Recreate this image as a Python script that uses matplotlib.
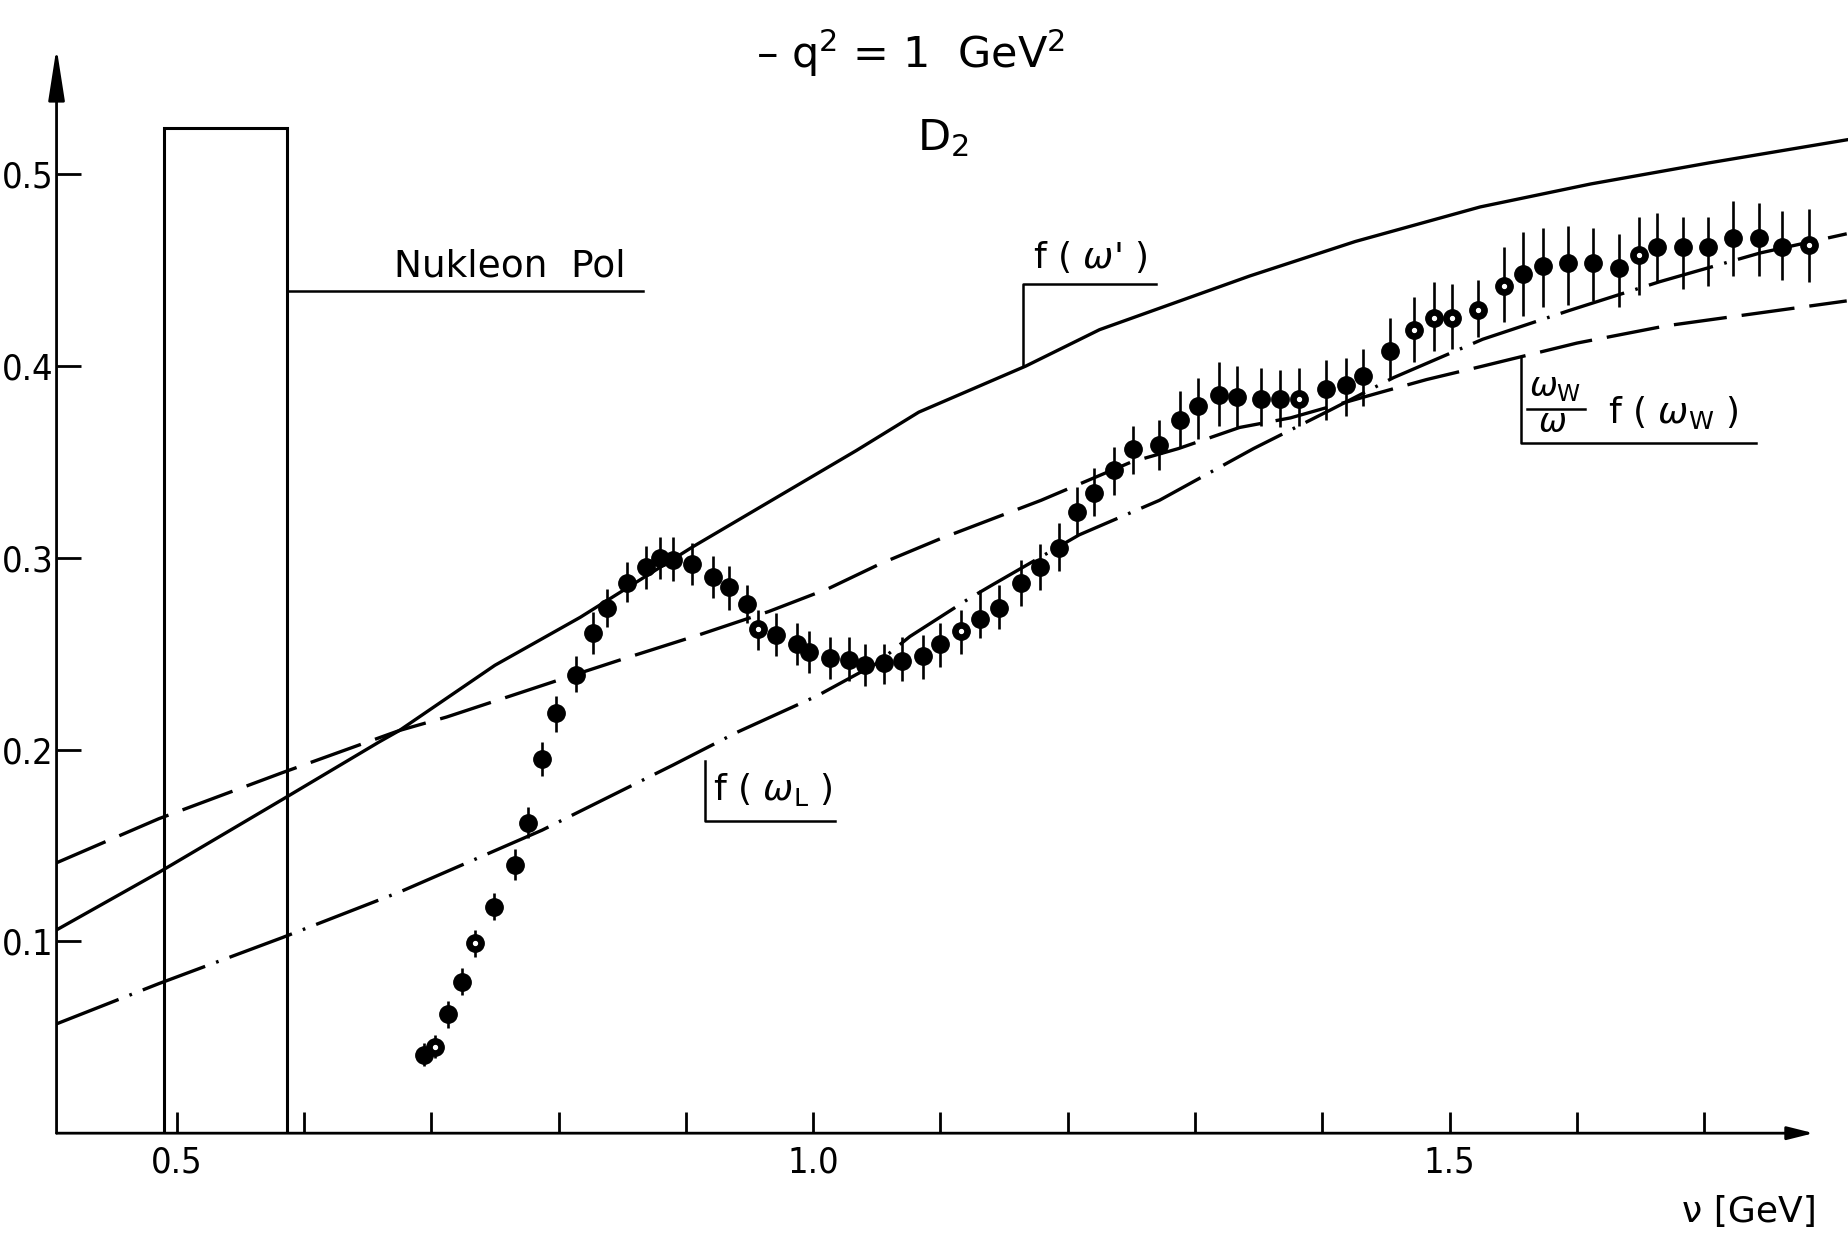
#!/usr/bin/env python3
"""D2 structure function ratio at -q^2 = 1 GeV^2 with three scaling curves."""

import numpy as np
import matplotlib.pyplot as plt

# measured points: nu [GeV], value, upper / lower error
NU = [0.694, 0.703, 0.713, 0.724, 0.734, 0.749, 0.766, 0.776, 0.787, 0.798,
      0.814, 0.827, 0.838, 0.854, 0.869, 0.880, 0.890, 0.905, 0.921, 0.934,
      0.948, 0.957, 0.971, 0.987, 0.997, 1.013, 1.028, 1.041, 1.056, 1.070,
      1.086, 1.100, 1.116, 1.131, 1.146, 1.163, 1.178, 1.193, 1.207, 1.221,
      1.236, 1.251, 1.272, 1.288, 1.302, 1.319, 1.333, 1.352, 1.367, 1.382,
      1.403, 1.419, 1.432, 1.453, 1.472, 1.488, 1.502, 1.522, 1.543, 1.558,
      1.573, 1.593, 1.613, 1.633, 1.649, 1.663, 1.683, 1.703, 1.723, 1.743,
      1.761, 1.782]
VAL = [0.041, 0.045, 0.062, 0.079, 0.099, 0.118, 0.140, 0.162, 0.195, 0.219,
       0.239, 0.261, 0.274, 0.287, 0.295, 0.300, 0.299, 0.297, 0.290, 0.285,
       0.276, 0.263, 0.260, 0.255, 0.251, 0.248, 0.247, 0.244, 0.245, 0.246,
       0.249, 0.255, 0.262, 0.268, 0.274, 0.287, 0.295, 0.305, 0.324, 0.334,
       0.346, 0.357, 0.359, 0.372, 0.379, 0.385, 0.384, 0.383, 0.383, 0.383,
       0.388, 0.390, 0.395, 0.408, 0.419, 0.425, 0.425, 0.429, 0.442, 0.448,
       0.452, 0.454, 0.454, 0.451, 0.458, 0.462, 0.462, 0.462, 0.467, 0.467,
       0.462, 0.463]
ERR_UP = [0.006, 0.006, 0.007, 0.007, 0.007, 0.007, 0.008, 0.008, 0.009, 0.009,
          0.010, 0.011, 0.010, 0.011, 0.011, 0.011, 0.012, 0.011, 0.011, 0.011,
          0.010, 0.010, 0.011, 0.011, 0.011, 0.011, 0.012, 0.011, 0.010, 0.013,
          0.011, 0.011, 0.011, 0.015, 0.012, 0.012, 0.012, 0.013, 0.013, 0.013,
          0.012, 0.012, 0.013, 0.015, 0.015, 0.017, 0.016, 0.016, 0.015, 0.016,
          0.015, 0.014, 0.014, 0.017, 0.017, 0.019, 0.018, 0.016, 0.020, 0.022,
          0.020, 0.019, 0.018, 0.018, 0.020, 0.018, 0.016, 0.016, 0.019, 0.018,
          0.019, 0.019]
ERR_DN = [0.006, 0.006, 0.007, 0.007, 0.007, 0.007, 0.008, 0.008, 0.009, 0.010,
          0.009, 0.011, 0.010, 0.010, 0.011, 0.011, 0.011, 0.011, 0.011, 0.012,
          0.010, 0.011, 0.011, 0.011, 0.011, 0.011, 0.011, 0.011, 0.011, 0.010,
          0.012, 0.012, 0.012, 0.010, 0.011, 0.012, 0.012, 0.012, 0.012, 0.012,
          0.013, 0.013, 0.013, 0.014, 0.017, 0.016, 0.016, 0.014, 0.015, 0.014,
          0.016, 0.016, 0.016, 0.014, 0.017, 0.017, 0.016, 0.014, 0.019, 0.022,
          0.021, 0.022, 0.020, 0.020, 0.021, 0.018, 0.022, 0.020, 0.020, 0.020,
          0.017, 0.019]
RING = [1, 4, 21, 32, 49, 54, 55, 56, 57, 58, 64, 71]  # points printed with a light centre

# f(omega')  (solid)
NU_FP = [0.4056, 0.486, 0.583, 0.659, 0.675, 0.75, 0.817, 0.906, 1.034, 1.083,
         1.167, 1.225, 1.343, 1.426, 1.524, 1.611, 1.704, 1.812]
F_PRIME = [0.106, 0.136, 0.174, 0.204, 0.210, 0.244, 0.269, 0.306, 0.356, 0.376,
           0.400, 0.419, 0.447, 0.465, 0.483, 0.495, 0.506, 0.518]

# omega_W / omega f(omega_W)  (dashed)
NU_FW = [0.4056, 0.486, 0.583, 0.675, 0.712, 0.817, 0.854, 0.911, 0.965, 1.012,
         1.053, 1.10, 1.179, 1.25, 1.287, 1.335, 1.375, 1.444, 1.482, 1.526,
         1.60, 1.67, 1.812]
F_W = [0.141, 0.164, 0.188, 0.210, 0.217, 0.240, 0.248, 0.260, 0.272, 0.284,
       0.297, 0.310, 0.330, 0.350, 0.357, 0.368, 0.373, 0.386, 0.393, 0.400,
       0.412, 0.421, 0.434]

# f(omega_L)  (dash-dot)
NU_FL = [0.4056, 0.486, 0.583, 0.676, 0.787, 0.89, 0.94, 1.003, 1.05, 1.076,
         1.123, 1.141, 1.209, 1.272, 1.346, 1.406, 1.456, 1.526, 1.594, 1.665,
         1.744, 1.812]
F_L = [0.057, 0.078, 0.102, 0.126, 0.158, 0.192, 0.209, 0.228, 0.245, 0.259,
       0.279, 0.286, 0.312, 0.330, 0.357, 0.377, 0.394, 0.414, 0.429, 0.444,
       0.459, 0.469]

# nucleon pole box
POLE_LO, POLE_HI, POLE_TOP = 0.49, 0.587, 0.524

X_TICKS = [0.5, 0.6, 0.7, 0.8, 0.9, 1.0, 1.1, 1.2, 1.3, 1.4, 1.5, 1.6, 1.7]
X_LABELS = ["0.5", "", "", "", "", "1.0", "", "", "", "", "1.5", "", ""]
Y_TICKS = [0.1, 0.2, 0.3, 0.4, 0.5]
Y_LABELS = ["0.1", "0.2", "0.3", "0.4", "0.5"]

LW = 2.4


def main() -> None:
    plt.rcParams["font.family"] = "DejaVu Sans"
    plt.rcParams["mathtext.fontset"] = "dejavusans"

    fig = plt.figure(figsize=(18.48, 12.34), dpi=100)
    ax = fig.add_axes([0.0306, 0.0817, 0.9694, 0.8858])
    ax.set_xlim(0.4056, 1.813)
    ax.set_ylim(0.0, 0.57)
    for s in ax.spines.values():
        s.set_visible(False)

    # axes with arrows
    ax.annotate("", xy=(0.4056, 0.566), xytext=(0.4056, 0.0), annotation_clip=False,
                arrowprops=dict(arrowstyle="-|>,head_length=1.6,head_width=0.25",
                                lw=2.0, color="k", shrinkA=0, shrinkB=0,
                                mutation_scale=20))
    ax.annotate("", xy=(1.786, 0.0), xytext=(0.4056, 0.0), annotation_clip=False,
                arrowprops=dict(arrowstyle="-|>,head_length=0.8,head_width=0.2",
                                lw=2.0, color="k", shrinkA=0, shrinkB=0,
                                mutation_scale=20))

    ax.set_xticks(X_TICKS)
    ax.set_xticklabels(X_LABELS)
    ax.set_yticks(Y_TICKS)
    ax.set_yticklabels(Y_LABELS)
    ax.tick_params(axis="both", direction="in", width=2.0, colors="k", labelsize=26)
    ax.tick_params(axis="x", length=15, pad=9)
    ax.tick_params(axis="y", length=17, pad=2)
    for lab in ax.get_xticklabels() + ax.get_yticklabels():
        lab.set_fontstretch("condensed")

    # nucleon pole
    ax.plot([POLE_LO, POLE_LO, POLE_HI, POLE_HI], [0.0, POLE_TOP, POLE_TOP, 0.0],
            color="k", lw=2.2, solid_joinstyle="miter")

    # model curves
    ax.plot(NU_FP, F_PRIME, color="k", lw=LW)
    ax.plot(NU_FW, F_W, color="k", lw=LW, dashes=(16, 4.5))
    ax.plot(NU_FL, F_L, color="k", lw=LW, dashes=(20, 3.5, 0.8, 3.5))

    # data
    ax.errorbar(NU, VAL, yerr=[ERR_DN, ERR_UP], fmt="o", color="k", ms=12.5,
                elinewidth=1.9, capsize=0, zorder=5)
    ring_nu = [NU[i] for i in RING]
    ring_val = [VAL[i] for i in RING]
    ax.plot(ring_nu, ring_val, "o", color="white", ms=2.8, zorder=6)

    # labels with leader lines
    lead = dict(color="k", lw=1.8)
    ax.plot([POLE_HI, 0.866], [0.439, 0.439], **lead)
    ax.text(0.762, 0.452, "Nukleon  Pol", ha="center", va="center", fontsize=27)

    ax.plot([1.165, 1.165, 1.269], [0.400, 0.443, 0.443], **lead)
    ax.text(1.218, 0.457, "f ( $\\omega$' )", ha="center", va="center", fontsize=26)

    ax.plot([0.915, 0.915, 1.017], [0.194, 0.1626, 0.1626], **lead)
    ax.text(0.968, 0.179, "f ( $\\omega_{\\mathrm{L}}$ )", ha="center", va="center",
            fontsize=26)

    ax.plot([1.556, 1.556, 1.741], [0.404, 0.360, 0.360], **lead)
    ax.text(1.583, 0.389, "$\\omega_{\\mathrm{W}}$", ha="center", va="center",
            fontsize=24)
    ax.plot([1.561, 1.606], [0.3777, 0.3777], **lead)
    ax.text(1.581, 0.3705, "$\\omega$", ha="center", va="center", fontsize=24)
    ax.text(1.676, 0.376, "f ( $\\omega_{\\mathrm{W}}$ )", ha="center", va="center",
            fontsize=26)

    fig.text(0.4925, 0.957, "– q$^2$ = 1  GeV$^2$", ha="center", va="center",
             fontsize=31)
    fig.text(0.510, 0.888, "D$_2$", ha="center", va="center", fontsize=31)
    fig.text(0.983, 0.018, "ν [GeV]", ha="right", va="center", fontsize=26)

    fig.savefig("out.png", dpi=100, facecolor="white")


if __name__ == "__main__":
    main()
